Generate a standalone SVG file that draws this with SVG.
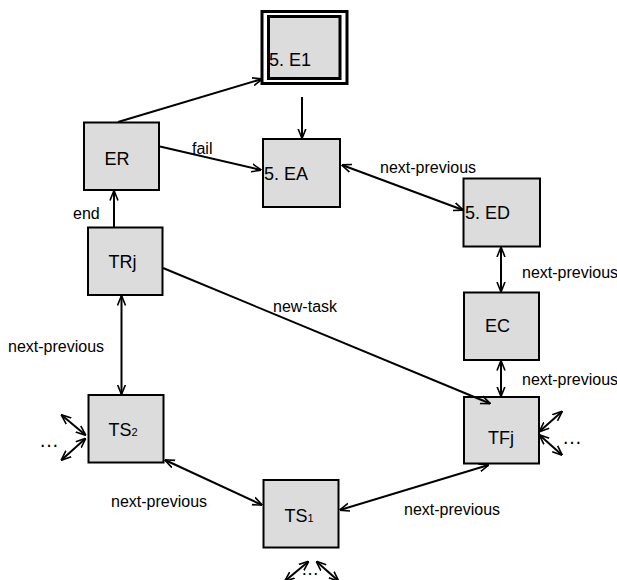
<svg xmlns="http://www.w3.org/2000/svg" width="617" height="580" viewBox="0 0 617 580">
<style>
.box{fill:#dcdcdc;stroke:#000;stroke-width:2}
.nl{font-family:"Liberation Sans",Arial,sans-serif;font-size:18px;fill:#000}
.el{font-family:"Liberation Sans",Arial,sans-serif;font-size:16px;fill:#000}
.dots{font-family:"Liberation Sans",Arial,sans-serif;font-size:20px;fill:#000}
.c{stroke:#000;stroke-width:2;fill:none}
.sub{font-size:11px}
</style>
<defs>
<marker id="ah" viewBox="0 0 10 10" refX="9.5" refY="5" markerWidth="10" markerHeight="10" orient="auto-start-reverse" markerUnits="userSpaceOnUse">
<path d="M0,1 L10,5 L0,9" fill="none" stroke="#000" stroke-width="1.6"/>
</marker>
</defs>
<rect width="617" height="580" fill="#fff"/>
<g id="E1">
<rect x="262" y="11.5" width="85" height="72" fill="#fff" stroke="#000" stroke-width="3"/>
<rect x="268.5" y="16.5" width="71.5" height="62" fill="#dcdcdc" stroke="#000" stroke-width="3"/>
<text class="nl" x="269" y="66">5. E1</text>
</g>
<g id="ER">
<rect class="box" x="84" y="122.5" width="75" height="67.5"/>
<text class="nl" x="117" y="165" text-anchor="middle">ER</text>
</g>
<g id="EA">
<rect class="box" x="263" y="139" width="77" height="68"/>
<text class="nl" x="264" y="180">5. EA</text>
</g>
<g id="ED">
<rect class="box" x="463.5" y="178.5" width="76.5" height="68"/>
<text class="nl" x="465" y="219">5. ED</text>
</g>
<g id="TRj">
<rect class="box" x="88" y="227.5" width="74.5" height="67.5"/>
<text class="nl" x="122.5" y="268" text-anchor="middle">TRj</text>
</g>
<g id="EC">
<rect class="box" x="464" y="292.5" width="75" height="67.5"/>
<text class="nl" x="497.5" y="332" text-anchor="middle">EC</text>
</g>
<g id="TS2">
<rect class="box" x="88.5" y="395" width="75" height="67.5"/>
<text class="nl" x="123" y="436" text-anchor="middle">TS<tspan class="sub">2</tspan></text>
</g>
<g id="TFj">
<rect class="box" x="464" y="397" width="75" height="66.5"/>
<text class="nl" x="501" y="444" text-anchor="middle">TFj</text>
</g>
<g id="TS1">
<rect class="box" x="263.5" y="480" width="75" height="67.5"/>
<text class="nl" x="299" y="521.5" text-anchor="middle">TS<tspan class="sub">1</tspan></text>
</g>
<g id="connectors">
<line class="c" x1="118" y1="122" x2="262" y2="79" marker-end="url(#ah)"/>
<line class="c" x1="302" y1="97" x2="302" y2="138" marker-end="url(#ah)"/>
<line class="c" x1="160" y1="146.5" x2="261" y2="170" marker-end="url(#ah)"/>
<text class="el" x="192" y="154">fail</text>
<line class="c" x1="342" y1="165" x2="463" y2="210" marker-start="url(#ah)" marker-end="url(#ah)"/>
<text class="el" x="380" y="173">next-previous</text>
<line class="c" x1="501" y1="247.5" x2="501" y2="291.5" marker-start="url(#ah)" marker-end="url(#ah)"/>
<text class="el" x="522" y="278">next-previous</text>
<line class="c" x1="501" y1="361" x2="501" y2="396" marker-start="url(#ah)" marker-end="url(#ah)"/>
<text class="el" x="522" y="385">next-previous</text>
<line class="c" x1="114" y1="227" x2="114" y2="191" marker-end="url(#ah)"/>
<text class="el" x="73" y="219">end</text>
<line class="c" x1="121.5" y1="296" x2="121.5" y2="394" marker-start="url(#ah)" marker-end="url(#ah)"/>
<text class="el" x="8" y="352">next-previous</text>
<line class="c" x1="163" y1="268" x2="490" y2="403.5" marker-end="url(#ah)"/>
<text class="el" x="273" y="312">new-task</text>
<line class="c" x1="165" y1="460" x2="262" y2="505" marker-start="url(#ah)" marker-end="url(#ah)"/>
<text class="el" x="111" y="507">next-previous</text>
<line class="c" x1="340" y1="510" x2="488.5" y2="465" marker-start="url(#ah)" marker-end="url(#ah)"/>
<text class="el" x="404" y="515">next-previous</text>
<line class="c" x1="85.5" y1="435" x2="61.5" y2="415" marker-start="url(#ah)" marker-end="url(#ah)"/>
<line class="c" x1="85.5" y1="438.5" x2="61.5" y2="460" marker-start="url(#ah)" marker-end="url(#ah)"/>
<text class="dots" x="39" y="447">…</text>
<line class="c" x1="539.5" y1="431.5" x2="562" y2="411.5" marker-start="url(#ah)" marker-end="url(#ah)"/>
<line class="c" x1="539.5" y1="435" x2="562" y2="455" marker-start="url(#ah)" marker-end="url(#ah)"/>
<text class="dots" x="562" y="444">…</text>
<line class="c" x1="308.5" y1="561.5" x2="285" y2="581" marker-start="url(#ah)" marker-end="url(#ah)"/>
<line class="c" x1="316.5" y1="561.5" x2="338.5" y2="581" marker-start="url(#ah)" marker-end="url(#ah)"/>
<text class="nl" x="301" y="575">…</text>
</g>
</svg>
